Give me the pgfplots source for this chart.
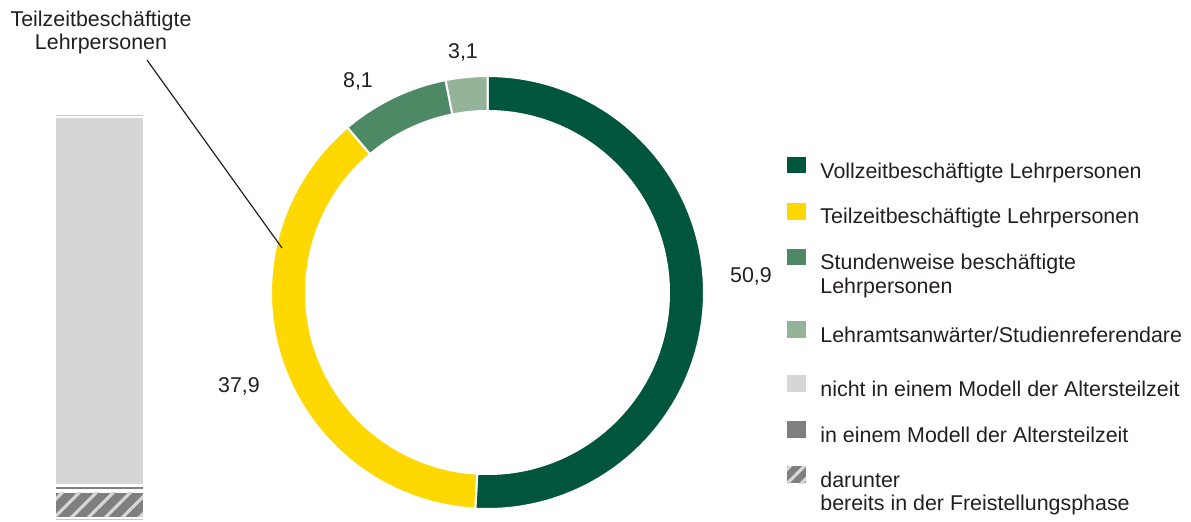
\documentclass[border=0pt]{standalone}
\usepackage{pgfplots}
\pgfplotsset{compat=1.18}
\usepackage{fontspec}
\setmainfont{Liberation Sans}
\usetikzlibrary{patterns.meta}
\definecolor{dkgreen}{RGB}{0,86,60}
\definecolor{yel}{RGB}{255,216,0}
\definecolor{mdgreen}{RGB}{78,137,101}
\definecolor{ltgreen}{RGB}{148,180,154}
\definecolor{ltgray}{RGB}{214,214,214}
\definecolor{lineg}{RGB}{200,200,200}
\definecolor{dkgray}{RGB}{127,127,127}
\definecolor{txt}{RGB}{35,31,32}
\begin{document}
\begin{tikzpicture}
% donut data (percent)
\def\valA{50.9}\def\valB{37.9}\def\valC{8.1}\def\valD{3.1}
\pgfmathsetmacro\aA{90}
\pgfmathsetmacro\aB{90-3.6*\valA}
\pgfmathsetmacro\aC{\aB-3.6*\valB}
\pgfmathsetmacro\aD{\aC-3.6*\valC}
\pgfmathsetmacro\aE{\aD-3.6*\valD}
\def\Ro{108.25}\def\Ri{90.75}
\begin{axis}[at={(243.75pt,-146.25pt)}, anchor=center, width=240pt, height=240pt,
  scale only axis, xmin=-120, xmax=120, ymin=-120, ymax=120, hide axis, clip=false]
\filldraw[fill=dkgreen, draw=white, line width=1pt] ({\Ro*cos(\aA)},{\Ro*sin(\aA)}) arc[start angle=\aA, end angle=\aB, radius=\Ro pt] -- ({\Ri*cos(\aB)},{\Ri*sin(\aB)}) arc[start angle=\aB, end angle=\aA, radius=\Ri pt] -- cycle;
\filldraw[fill=yel, draw=white, line width=1pt] ({\Ro*cos(\aB)},{\Ro*sin(\aB)}) arc[start angle=\aB, end angle=\aC, radius=\Ro pt] -- ({\Ri*cos(\aC)},{\Ri*sin(\aC)}) arc[start angle=\aC, end angle=\aB, radius=\Ri pt] -- cycle;
\filldraw[fill=mdgreen, draw=white, line width=1pt] ({\Ro*cos(\aC)},{\Ro*sin(\aC)}) arc[start angle=\aC, end angle=\aD, radius=\Ro pt] -- ({\Ri*cos(\aD)},{\Ri*sin(\aD)}) arc[start angle=\aD, end angle=\aC, radius=\Ri pt] -- cycle;
\filldraw[fill=ltgreen, draw=white, line width=1pt] ({\Ro*cos(\aD)},{\Ro*sin(\aD)}) arc[start angle=\aD, end angle=\aE, radius=\Ro pt] -- ({\Ri*cos(\aE)},{\Ri*sin(\aE)}) arc[start angle=\aE, end angle=\aD, radius=\Ri pt] -- cycle;
\end{axis}
% stacked bar (Teilzeit breakdown)
\begin{axis}[at={(28pt,-259.75pt)}, anchor=south west, width=43.5pt, height=202.4pt,
  scale only axis, hide axis, xmin=-0.5, xmax=0.5, ymin=0, ymax=404.8,
  ybar stacked, bar width=43.5pt]
\addplot[fill=lineg, draw=none] coordinates {(0,1.0)};
\addplot[fill=white, draw=none] coordinates {(0,1.8)};
\addplot[fill=dkgray, draw=none, postaction={pattern={Lines[angle=45,distance=6pt,line width=1.6pt]}, pattern color=ltgray}] coordinates {(0,24.0)};
\addplot[fill=white, draw=none] coordinates {(0,3.4)};
\addplot[fill=dkgray, draw=none] coordinates {(0,2.0)};
\addplot[fill=white, draw=none] coordinates {(0,3.3)};
\addplot[fill=ltgray, draw=none] coordinates {(0,365.7)};
\addplot[fill=white, draw=none] coordinates {(0,2.6)};
\addplot[fill=lineg, draw=none] coordinates {(0,1.0)};
\end{axis}
\begin{scope}[x=0.5pt,y=-0.5pt,
  every node/.style={text=txt, inner sep=0pt, font=\fontsize{10.7}{12}\selectfont}]
\useasboundingbox (0,0) rectangle (1191,521);
% value labels
\node[anchor=base] at (751,282) {50,9};
\node[anchor=base] at (239,392) {37,9};
\node[anchor=base] at (358,87) {8,1};
\node[anchor=base] at (463,58) {3,1};
% callout
\node[anchor=base] at (101,26) {Teilzeitbeschäftigte};
\node[anchor=base] at (101,49) {Lehrpersonen};
\draw[txt, line width=0.6pt] (147,60) -- (282,248);
% legend
\fill[dkgreen] (787,157) rectangle (806,173);
\node[anchor=base west] at (820,178) {Vollzeitbeschäftigte Lehrpersonen};
\fill[yel] (787,203) rectangle (806,220);
\node[anchor=base west] at (820,223) {Teilzeitbeschäftigte Lehrpersonen};
\fill[mdgreen] (787,249) rectangle (806,265);
\node[anchor=base west] at (820,269) {Stundenweise beschäftigte};
\node[anchor=base west] at (820,293) {Lehrpersonen};
\fill[ltgreen] (787,321) rectangle (806,338);
\node[anchor=base west] at (820,342) {Lehramtsanwärter/Studienreferendare};
\fill[ltgray] (787,375) rectangle (806,392);
\node[anchor=base west] at (820,396) {nicht in einem Modell der Altersteilzeit};
\fill[dkgray] (787,421) rectangle (806,438);
\node[anchor=base west] at (820,442) {in einem Modell der Altersteilzeit};
\fill[dkgray, postaction={pattern={Lines[angle=45,distance=5pt,line width=1.6pt]}, pattern color=ltgray}] (787,466) rectangle (806,483);
\node[anchor=base west] at (820,487) {darunter};
\node[anchor=base west] at (820,510) {bereits in der Freistellungsphase};
\end{scope}
\end{tikzpicture}
\end{document}
